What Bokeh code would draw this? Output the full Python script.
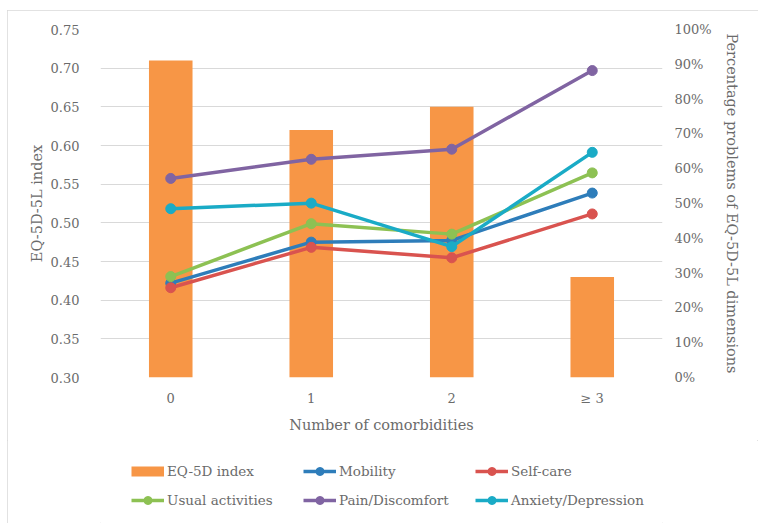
from bokeh.plotting import figure
from bokeh.models import (Range1d, LinearAxis, FixedTicker, NumeralTickFormatter,
                          PrintfTickFormatter, Legend, LegendItem, FactorRange, Spacer)
from bokeh.layouts import column, row
from bokeh.embed import file_html
from bokeh.resources import INLINE

# ---- data ----
categories = ["0", "1", "2", "\u2265 3"]
eq5d_index = [0.71, 0.62, 0.65, 0.43]
mobility = [27.1, 38.9, 39.4, 53.0]
self_care = [25.8, 37.4, 34.4, 47.0]
usual_activities = [29.0, 44.2, 41.2, 58.8]
pain_discomfort = [57.2, 62.7, 65.6, 88.2]
anxiety_depression = [48.5, 50.1, 37.6, 64.7]
left_ticks = [0.30, 0.35, 0.40, 0.45, 0.50, 0.55, 0.60, 0.65, 0.70, 0.75]
right_ticks = [0, 10, 20, 30, 40, 50, 60, 70, 80, 90, 100]

FONT = "DejaVu Serif"
TXT = "#6b6b6b"
GRID = "#d9d9d9"
BAR_COLOR = "#F79646"

series = [
    ("Mobility", mobility, "#2E7DBA"),
    ("Self-care", self_care, "#D9534F"),
    ("Usual activities", usual_activities, "#8DC153"),
    ("Pain/Discomfort", pain_discomfort, "#8064A2"),
    ("Anxiety/Depression", anxiety_depression, "#1AABC6"),
]

p = figure(width=751, height=430, output_backend="svg", toolbar_location=None,
           x_range=FactorRange(factors=categories), y_range=Range1d(0.30, 0.75),
           min_border_left=93, min_border_right=96, min_border_top=19, min_border_bottom=63)
p.outline_line_color = None
p.extra_y_ranges = {"pct": Range1d(0, 100)}

# bars
p.vbar(x=categories, top=eq5d_index, bottom=0.30, width=0.31,
       fill_color=BAR_COLOR, line_color=None)

for name, vals, col in series:
    p.line(categories, vals, y_range_name="pct", line_color=col, line_width=3.5)
    p.scatter(categories, vals, y_range_name="pct", size=10, fill_color=col, line_color=col)

# axes
p.xaxis.axis_line_color = None
p.xaxis.major_tick_line_color = None
p.xaxis.minor_tick_line_color = None
p.xaxis.major_label_text_font = FONT
p.xaxis.major_label_text_font_size = "13px"
p.xaxis.major_label_text_color = TXT
p.xaxis.major_label_standoff = 7
p.xaxis.axis_label = "Number of comorbidities"
p.xaxis.axis_label_text_font = FONT
p.xaxis.axis_label_text_font_size = "14.5px"
p.xaxis.axis_label_text_font_style = "normal"
p.xaxis.axis_label_text_color = TXT
p.xaxis.axis_label_standoff = 8

p.yaxis.ticker = FixedTicker(ticks=left_ticks)
p.yaxis.formatter = NumeralTickFormatter(format="0.00")
p.yaxis.axis_line_color = None
p.yaxis.major_tick_line_color = None
p.yaxis.minor_tick_line_color = None
p.yaxis.major_label_text_font = FONT
p.yaxis.major_label_text_font_size = "13px"
p.yaxis.major_label_text_color = TXT
p.yaxis.major_label_standoff = 15
p.yaxis.axis_label = "EQ-5D-5L index"
p.yaxis.axis_label_text_font = FONT
p.yaxis.axis_label_text_font_size = "14.5px"
p.yaxis.axis_label_text_font_style = "normal"
p.yaxis.axis_label_text_color = TXT
p.yaxis.axis_label_standoff = 3

ry = LinearAxis(y_range_name="pct", ticker=FixedTicker(ticks=right_ticks),
                formatter=PrintfTickFormatter(format="%d%%"))
ry.axis_line_color = None
ry.major_tick_line_color = None
ry.minor_tick_line_color = None
ry.major_label_text_font = FONT
ry.major_label_text_font_size = "13px"
ry.major_label_text_color = TXT
ry.major_label_standoff = 6
ry.axis_label = "Percentage problems of EQ-5D-5L dimensions"
ry.axis_label_text_font = FONT
ry.axis_label_text_font_size = "14.5px"
ry.axis_label_text_font_style = "normal"
ry.axis_label_text_color = TXT
ry.axis_label_standoff = 9
p.add_layout(ry, "right")

p.xgrid.grid_line_color = None
p.ygrid.grid_line_color = GRID
p.ygrid.ticker = FixedTicker(ticks=left_ticks)

# ---- legend strip (separate figure below the chart; its data lies outside the view) ----
lf = figure(width=751, height=83, output_backend="svg", toolbar_location=None,
            x_range=FactorRange(factors=categories), y_range=Range1d(-2, -1),
            x_axis_type=None, y_axis_type=None,
            min_border=0, min_border_left=0, min_border_right=0,
            min_border_top=0, min_border_bottom=0)
lf.grid.visible = False
lf.outline_line_color = None

sw = lf.line(categories, eq5d_index, line_color=BAR_COLOR, line_width=10, line_cap="butt")
items = [LegendItem(label="EQ-5D index", renderers=[sw])]
for name, vals, col in series:
    l = lf.line(categories, vals, line_color=col, line_width=3.5)
    s = lf.scatter(categories, vals, size=10, fill_color=col, line_color=col)
    items.append(LegendItem(label=name, renderers=[l, s]))

legend = Legend(items=items, orientation="horizontal", ncols=3,
                location=(31, 13), padding=0, margin=0, spacing=9,
                glyph_width=33, glyph_height=20, label_standoff=3, label_width=127,
                label_text_font=FONT, label_text_font_size="13.5px",
                label_text_color=TXT, border_line_color=None,
                background_fill_alpha=0)
lf.add_layout(legend, "center")

box = column(p, lf, styles={"outline": "1px solid #d9d9d9", "outline-offset": "-1px"})
layout = column(Spacer(height=10), row(Spacer(width=7), box))
open("out.html", "w").write(file_html(layout, INLINE))
